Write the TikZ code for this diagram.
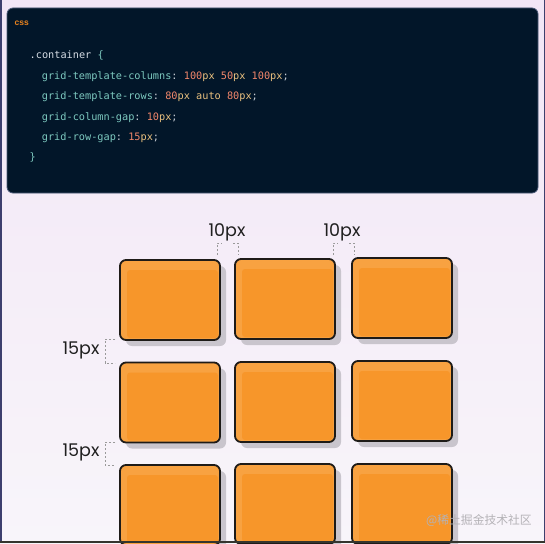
\documentclass[tikz,border=0pt]{standalone}
\usepackage{fontspec}
\setmonofont{DejaVu Sans Mono}
\newfontfamily\labfont{Poppins}
\newfontfamily\cssfont{Liberation Sans}
\newfontfamily\cjkfont{Noto Sans CJK SC}
\usetikzlibrary{calc}
\definecolor{bgtop}{HTML}{F2E6F6}
\definecolor{bgbot}{HTML}{F8F5FA}
\definecolor{frame}{HTML}{3D3F6E}
\definecolor{framebot}{HTML}{35352E}
\definecolor{codebg}{HTML}{021629}
\definecolor{codeedge}{HTML}{4B5A78}
\definecolor{cprop}{HTML}{7DC9BF}
\definecolor{cnum}{HTML}{F2876B}
\definecolor{cunit}{HTML}{E9C07F}
\definecolor{cpunct}{HTML}{C5CBD3}
\definecolor{csel}{HTML}{D6DCE4}
\definecolor{csslab}{HTML}{E8821E}
\definecolor{boxfill}{HTML}{F7962A}
\definecolor{boxhl}{HTML}{F8A241}
\definecolor{boxline}{HTML}{1E1B18}
\definecolor{shadowc}{HTML}{C9C5CD}
\definecolor{dashc}{HTML}{9A9A9A}
\definecolor{wmark}{HTML}{B4B2B6}
\newcommand\Cp[1]{\textcolor{cprop}{#1}}
\newcommand\Cn[1]{\textcolor{cnum}{#1}}
\newcommand\Cu[1]{\textcolor{cunit}{#1}}
\newcommand\Cq[1]{\textcolor{cpunct}{#1}}
\begin{document}
\begin{tikzpicture}[x=1pt,y=-1pt,
  codebox/.style={fill=codebg, draw=codeedge, line width=0.8pt, rounded corners=6pt,
    minimum width=531pt, minimum height=185pt, inner sep=0pt},
  codeline/.style={anchor=base west, inner sep=0pt, font=\ttfamily\fontsize{10.25}{12}\selectfont},
  lab/.style={inner sep=0pt, font=\labfont\fontsize{17.5}{19}\selectfont, text=black!88},
  bracket/.style={draw=dashc, line width=0.7pt, dash pattern=on 2.2pt off 1.8pt},
  gbox/.style={draw=boxline, line width=1.8pt, fill=boxfill, rounded corners=6pt,
    minimum width=100pt, minimum height=80pt, inner sep=0pt, outer sep=0pt,
    preaction={fill=shadowc, transform canvas={shift={(6pt,-6pt)}}},
    path picture={
      \fill[boxhl] (path picture bounding box.north west) rectangle (path picture bounding box.south east);
      \fill[boxfill, rounded corners=3pt] ($(path picture bounding box.north west)+(7pt,-10pt)$) rectangle ($(path picture bounding box.south east)+(-2pt,2pt)$);
    }}
]
\useasboundingbox (0,0) rectangle (545,543);
\begin{scope}
\clip (0,0) rectangle (545,543);
\shade[top color=bgtop, bottom color=bgbot] (0,0) rectangle (545,543);

% code block
\node[codebox] (code) at (272.5,100.5) {};
\node[anchor=base west, inner sep=0pt, font=\cssfont\bfseries\fontsize{8.5}{10}\selectfont, text=csslab] (css) at (14.5,26) {css};
\node[codeline] (l1) at (29.5,58.5) {\textcolor{csel}{.container} \Cp{\{}};
\node[codeline] (l2) at (41.7,79) {\Cp{grid-template-columns}\Cq{:} \Cn{100}\Cu{px} \Cn{50}\Cu{px} \Cn{100}\Cu{px}\Cq{;}};
\node[codeline] (l3) at (41.7,99.5) {\Cp{grid-template-rows}\Cq{:} \Cn{80}\Cu{px} \Cu{auto} \Cn{80}\Cu{px}\Cq{;}};
\node[codeline] (l4) at (41.7,120) {\Cp{grid-column-gap}\Cq{:} \Cn{10}\Cu{px}\Cq{;}};
\node[codeline] (l5) at (41.7,140) {\Cp{grid-row-gap}\Cq{:} \Cn{15}\Cu{px}\Cq{;}};
\node[codeline] (l6) at (29.5,160) {\Cp{\}}};

% grid boxes
\node[gbox] (b11) at (170,300) {};
\node[gbox] (b12) at (285,299) {};
\node[gbox] (b13) at (402,298) {};
\node[gbox] (b21) at (170,402.5) {};
\node[gbox] (b22) at (285,402) {};
\node[gbox] (b23) at (402,401) {};
\node[gbox] (b31) at (170,505) {};
\node[gbox] (b32) at (285,504) {};
\node[gbox] (b33) at (402,504) {};

% gap labels
\node[lab] (t1) at (227,232) {10px};
\node[lab] (t2) at (342,232) {10px};
\node[lab] (s1) at (81,350) {15px};
\node[lab] (s2) at (81,452) {15px};

% dashed brackets
\draw[bracket] (217,255) -- (217,243) -- (222,243);
\draw[bracket] (233,243) -- (238,243) -- (238,255);
\draw[bracket] (333,255) -- (333,243) -- (338,243);
\draw[bracket] (349,243) -- (354,243) -- (354,255);
\draw[bracket] (115,339) -- (105,339) -- (105,363) -- (115,363);
\draw[bracket] (115,442) -- (105,442) -- (105,465) -- (115,465);

% watermark
\node[inner sep=0pt, font=\cjkfont\fontsize{11.8}{13}\selectfont, text=wmark] (wm) at (479,521) {@稀土掘金技术社区};

% frame lines
\fill[frame] (0,0) rectangle (1.5,543);
\fill[frame] (543.5,0) rectangle (545,543);
\fill[framebot] (0,541) rectangle (545,543);
\end{scope}
\end{tikzpicture}
\end{document}
